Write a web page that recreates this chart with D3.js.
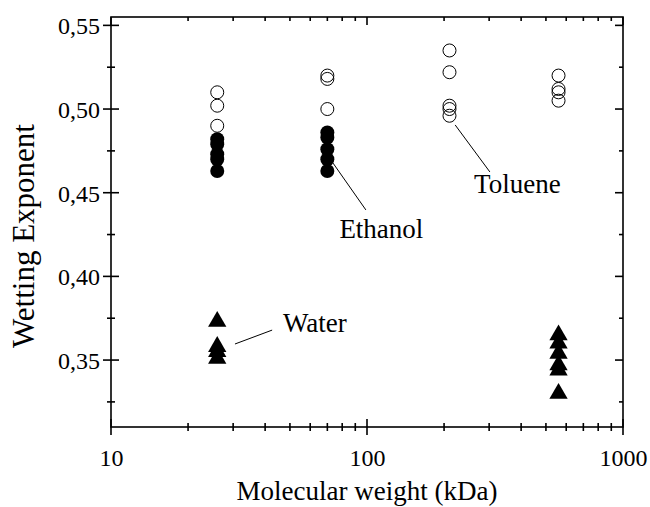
<!DOCTYPE html>
<html><head><meta charset="utf-8">
<script src="https://cdn.jsdelivr.net/npm/d3@7"></script>
<style>body{margin:0;background:#fff}svg{display:block}text{font-family:"Liberation Serif","Times New Roman",serif;fill:#000}</style>
</head><body><svg id="c" width="650" height="507"></svg>
<script>
// ---- data ----
const tolueneMW  = [26,26,26, 70,70,70, 210,210,210,210,210, 560,560,560,560];
const tolueneExp = [0.510,0.502,0.490, 0.520,0.518,0.500, 0.535,0.522,0.502,0.500,0.496, 0.520,0.512,0.510,0.505];
const ethanolMW  = [26,26,26,26,26, 70,70,70,70,70];
const ethanolExp = [0.482,0.479,0.473,0.470,0.463, 0.486,0.483,0.476,0.470,0.463];
const waterMW    = [26,26,26,26, 560,560,560,560,560,560];
const waterExp   = [0.373,0.358,0.355,0.351, 0.365,0.360,0.354,0.347,0.344,0.330];
const yTickValues = [0.35,0.40,0.45,0.50,0.55];
const yTickLabels = ["0,35","0,40","0,45","0,50","0,55"];
const xTickValues = [10,100,1000];
const xTickLabels = ["10","100","1000"];
// annotations: label, text anchor (mw, exp), leader line from (mw, exp) to (mw, exp)
const annotLabels = ["Toluene","Ethanol","Water"];
const annotText   = [[262,0.4498],[78,0.423],[47,0.3668]];
const annotLine   = [[[221,0.4905],[302,0.4624]],[[73.6,0.4678],[99,0.4397]],[[30.5,0.3596],[42.6,0.3679]]];

const svg = d3.select("#c");
const L=111,R=623,T=17,B=427;
const x = d3.scaleLog().domain([10,1000]).range([L,R]);
const y = d3.scaleLinear().domain([0.31,0.555]).range([B,T]);

const g = svg.append("g");
g.append("rect").attr("x",L).attr("y",T).attr("width",R-L).attr("height",B-T)
 .attr("fill","none").attr("stroke","#000").attr("stroke-width",1.6);

const xMinor = d3.range(1,3).flatMap(e=>d3.range(2,10).map(m=>m*Math.pow(10,e)));
const yMinor = [0.325,0.375,0.425,0.475,0.525];
function tick(x1,y1,x2,y2){g.append("line").attr("x1",x1).attr("y1",y1).attr("x2",x2).attr("y2",y2).attr("stroke","#000").attr("stroke-width",1.6);}
xTickValues.forEach(v=>{tick(x(v),B-8,x(v),B+8); tick(x(v),T,x(v),T+8);});
xMinor.forEach(v=>{tick(x(v),B-4,x(v),B+4); tick(x(v),T,x(v),T+4);});
yTickValues.forEach(v=>{tick(L-8,y(v),L+8,y(v)); tick(R-8,y(v),R,y(v));});
yMinor.forEach(v=>{tick(L-4,y(v),L+4,y(v)); tick(R-4,y(v),R,y(v));});

const xAxis = d3.axisBottom(x).tickValues(xTickValues).tickFormat((d,i)=>xTickLabels[i]).tickSize(0).tickPadding(22);
const xa = svg.append("g").attr("transform",`translate(0,${B})`).call(xAxis);
const yAxis = d3.axisLeft(y).tickValues(yTickValues).tickFormat((d,i)=>yTickLabels[i]).tickSize(0).tickPadding(11);
const ya = svg.append("g").attr("transform",`translate(${L},0)`).call(yAxis);
[xa,ya].forEach(a=>{a.select(".domain").remove(); a.selectAll("text").style("font-family","'Liberation Serif',serif").style("font-size","24px").attr("fill","#000");});
ya.selectAll("text").attr("dy","0.35em");
xa.selectAll("text").attr("dy","0.71em");

svg.append("text").attr("x",(L+R)/2).attr("y",500).attr("text-anchor","middle").style("font-size","27px").text("Molecular weight (kDa)");
svg.append("text").attr("transform",`translate(34,${236}) rotate(-90)`).attr("text-anchor","middle").style("font-size","31px").text("Wetting Exponent");

const r=6.5;
g.selectAll(".tol").data(d3.zip(tolueneMW,tolueneExp)).join("circle").attr("class","tol")
 .attr("cx",d=>x(d[0])).attr("cy",d=>y(d[1])).attr("r",r).attr("fill","none").attr("stroke","#000").attr("stroke-width",1);
g.selectAll(".eth").data(d3.zip(ethanolMW,ethanolExp)).join("circle").attr("class","eth")
 .attr("cx",d=>x(d[0])).attr("cy",d=>y(d[1])).attr("r",r+0.5).attr("fill","#000");
const tri = d3.symbol().type(d3.symbolTriangle).size(145);
g.selectAll(".wat").data(d3.zip(waterMW,waterExp)).join("path").attr("class","wat")
 .attr("transform",d=>`translate(${x(d[0])},${y(d[1])})`).attr("d",tri).attr("fill","#000");

annotLabels.forEach((t,i)=>{
  const ln=annotLine[i];
  g.append("line").attr("x1",x(ln[0][0])).attr("y1",y(ln[0][1])).attr("x2",x(ln[1][0])).attr("y2",y(ln[1][1])).attr("stroke","#000").attr("stroke-width",1);
  svg.append("text").attr("x",x(annotText[i][0])).attr("y",y(annotText[i][1])).style("font-size","27px").text(t);
});
</script></body></html>
